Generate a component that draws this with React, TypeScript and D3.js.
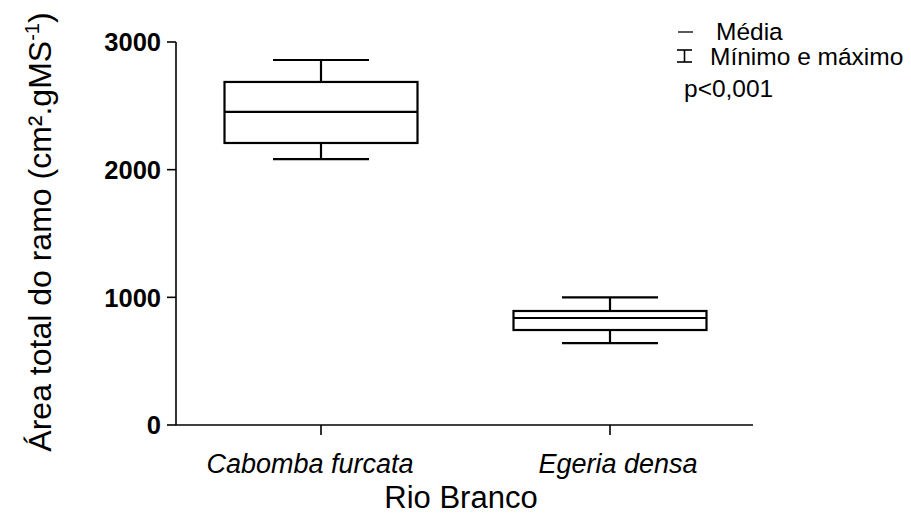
import React from "react";
import * as d3 from "d3";

const categories = ["Cabomba furcata", "Egeria densa"];
const minValues = [2083, 642];
const q1Values = [2209, 744];
const medianValues = [2452, 838];
const q3Values = [2687, 893];
const maxValues = [2859, 1000];
const yTicks = [0, 1000, 2000, 3000];
const labelShift = [-11, 8];

const W = 911;
const H = 514;
const x0 = 176;
const x1 = 753;
const yBase = 425;
const yTop = 42;

export default function App() {
  const y = d3.scaleLinear().domain([0, 3000]).range([yBase, yTop]);
  const x = d3.scalePoint<string>().domain(categories).range([321, 610]);
  const boxW = 193;
  const capW = 96;
  const font = "'Liberation Sans', Arial, sans-serif";
  return (
    <svg width={W} height={H} style={{ position: "absolute", left: 0, top: 0 }} fontFamily={font}>
      <rect width={W} height={H} fill="white" />
      {/* axes */}
      <line x1={x0} x2={x0} y1={yTop} y2={yBase} stroke="black" strokeWidth={1.6} />
      <line x1={x0} x2={x1} y1={yBase} y2={yBase} stroke="black" strokeWidth={1.6} />
      {yTicks.map((t) => (
        <g key={t}>
          <line x1={x0 - 9} x2={x0} y1={y(t)} y2={y(t)} stroke="black" strokeWidth={1.6} />
          <text
            x={x0 - 15}
            y={y(t)}
            dy="0.36em"
            textAnchor="end"
            fontSize={25.5}
            fontWeight="bold"
          >
            {t}
          </text>
        </g>
      ))}
      {categories.map((c, i) => (
        <g key={c}>
          <line x1={x(c)} x2={x(c)} y1={yBase} y2={yBase + 10} stroke="black" strokeWidth={1.6} />
          <text
            x={(x(c) as number) + labelShift[i]}
            y={yBase + 48}
            textAnchor="middle"
            fontSize={27}
            fontStyle="italic"
          >
            {c}
          </text>
        </g>
      ))}
      {categories.map((c, i) => {
        const cx = x(c) as number;
        return (
          <g key={"b" + c} stroke="black" strokeWidth={2.2} fill="none">
            <line x1={cx} x2={cx} y1={y(maxValues[i])} y2={y(q3Values[i])} />
            <line x1={cx} x2={cx} y1={y(q1Values[i])} y2={y(minValues[i])} />
            <line x1={cx - capW / 2} x2={cx + capW / 2} y1={y(maxValues[i])} y2={y(maxValues[i])} />
            <line x1={cx - capW / 2} x2={cx + capW / 2} y1={y(minValues[i])} y2={y(minValues[i])} />
            <rect x={cx - boxW / 2} y={y(q3Values[i])} width={boxW} height={y(q1Values[i]) - y(q3Values[i])} />
            <line x1={cx - boxW / 2} x2={cx + boxW / 2} y1={y(medianValues[i])} y2={y(medianValues[i])} />
          </g>
        );
      })}
      <text transform={`translate(51,232) rotate(-90)`} textAnchor="middle" fontSize={32}>
        Área total do ramo (cm².gMS
        <tspan dy={-12} fontSize={20}>-1</tspan>
        <tspan dy={12}>)</tspan>
      </text>
      <text x={461} y={508} textAnchor="middle" fontSize={31}>
        Rio Branco
      </text>
      {/* legend */}
      <line x1={678} x2={693} y1={32} y2={32} stroke="black" strokeWidth={1.3} />
      <text x={716} y={40} fontSize={24.5}>Média</text>
      <g stroke="black" strokeWidth={1.6}>
        <line x1={677} x2={692} y1={50} y2={50} />
        <line x1={677} x2={692} y1={62} y2={62} />
        <line x1={684.5} x2={684.5} y1={50} y2={62} />
      </g>
      <text x={710} y={65} fontSize={24.5}>
        Mínimo e máximo
      </text>
      <text x={684} y={97} fontSize={24.5}>
        p&lt;0,001
      </text>
    </svg>
  );
}
